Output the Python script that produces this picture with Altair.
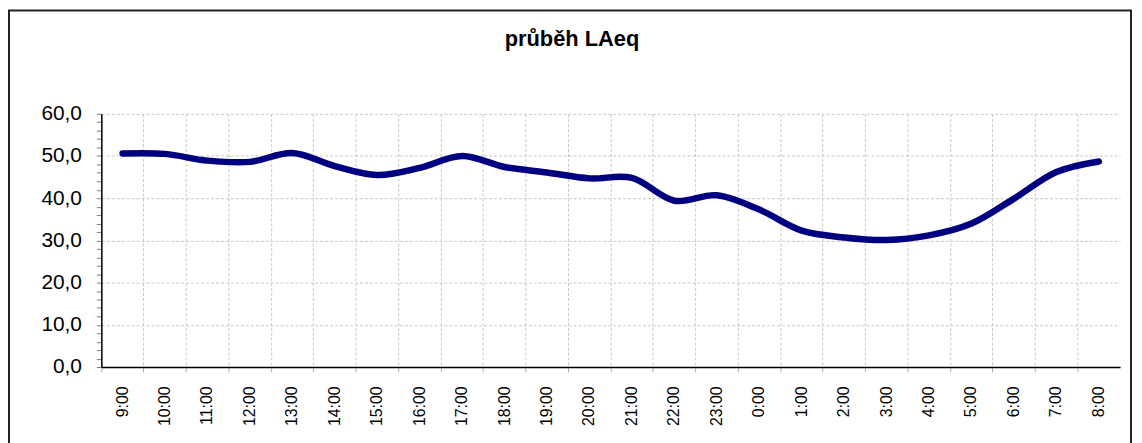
import altair as alt
import pandas as pd

hours = ["9:00", "10:00", "11:00", "12:00", "13:00", "14:00", "15:00", "16:00",
         "17:00", "18:00", "19:00", "20:00", "21:00", "22:00", "23:00", "0:00",
         "1:00", "2:00", "3:00", "4:00", "5:00", "6:00", "7:00", "8:00"]
laeq = [50.6, 50.5, 48.9, 48.6, 50.7, 47.6, 45.5, 47.2,
        50.0, 47.4, 46.1, 44.7, 44.8, 39.4, 40.7, 37.3,
        32.3, 30.7, 30.1, 31.2, 34.0, 39.9, 46.2, 48.7]
title_text = "průběh LAeq"

df = pd.DataFrame({"hodina": hours, "LAeq": laeq})
FONT = "Liberation Sans"

y_ticks = list(range(0, 61, 2))

line = alt.Chart(df).mark_line(
    color="#000080", strokeWidth=6.5, strokeCap="round", strokeJoin="round",
    interpolate="catmull-rom"
).encode(
    x=alt.X("hodina:N", sort=hours, title=None, bandPosition=0.5,
            scale=alt.Scale(type="band", paddingInner=0, paddingOuter=0),
            axis=alt.Axis(bandPosition=0, grid=True, gridColor="#c8c8c8",
                          gridDash=[3, 2], gridWidth=1,
                          ticks=True, tickSize=5, tickColor="#b0b0b0",
                          domainColor="#000000", domainWidth=1.5,
                          labelAngle=270, labelFontSize=16, labelFont=FONT,
                          labelColor="#000000", labelPadding=14)),
    y=alt.Y("LAeq:Q", title=None,
            scale=alt.Scale(domain=[0, 60], nice=False, zero=True),
            axis=alt.Axis(values=y_ticks,
                          labelExpr="datum.value % 10 === 0 ? replace(format(datum.value, '.1f'), '.', ',') : ''",
                          grid=True,
                          gridColor="#c8c8c8", gridDash=[3, 2], gridWidth=1,
                          gridOpacity=alt.condition("datum.value % 10 === 0 && datum.value > 0", alt.value(1), alt.value(0)),
                          tickSize=5, tickColor="#808080",
                          domainColor="#000000", domainWidth=1.5,
                          labelFontSize=21, labelFont=FONT, labelColor="#000000",
                          labelPadding=15))
)

single = pd.DataFrame({"t": [title_text]})

frame = alt.Chart(single).mark_rect(
    fill="transparent", stroke="#222222", strokeWidth=2
).encode(
    x=alt.value(-93), x2=alt.value(1037), y=alt.value(-104), y2=alt.value(345)
)

title = alt.Chart(single).mark_text(
    font=FONT, fontSize=22, fontWeight="bold", color="#000000",
    align="center", baseline="alphabetic"
).encode(
    text="t:N", x=alt.value(474), y=alt.value(-68)
)

chart = alt.layer(line, frame, title).properties(
    width=1026, height=255,
    autosize=alt.AutoSizeParams(type="none"),
    padding={"left": 94, "top": 105, "right": 14, "bottom": 75},
).configure_view(stroke=None)

chart.save("out.html", embed_options={"renderer": "svg", "actions": False})
